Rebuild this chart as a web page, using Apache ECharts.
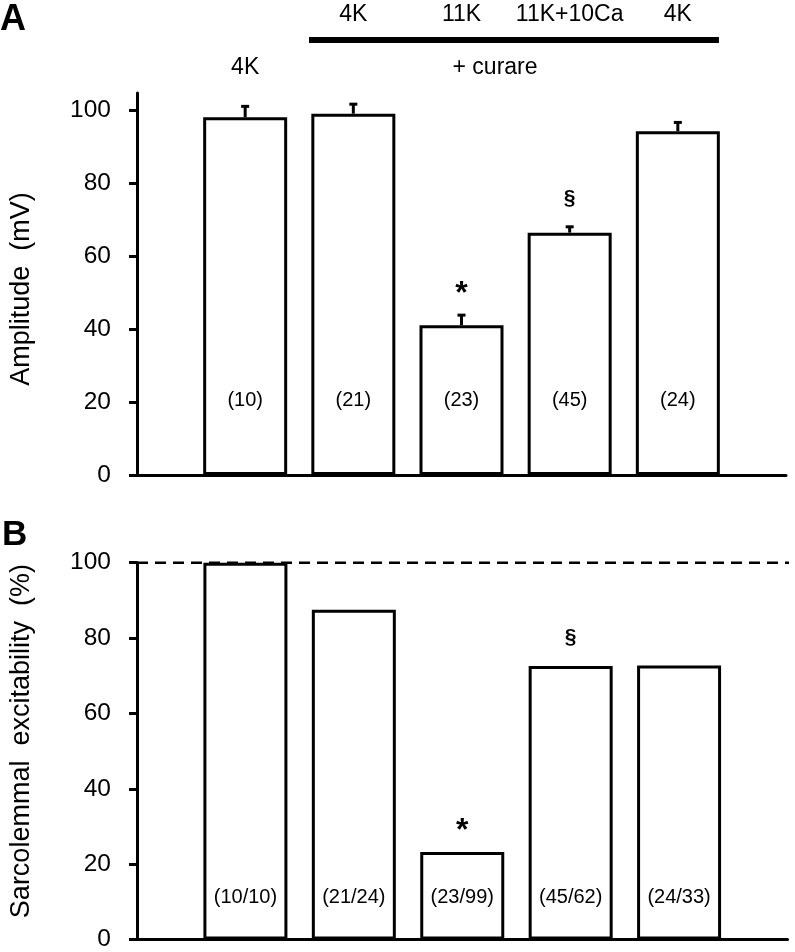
<!DOCTYPE html>
<html><head><meta charset="utf-8">
<script src="https://cdn.jsdelivr.net/npm/echarts@6/dist/echarts.min.js"></script>
<style>html,body{margin:0;padding:0;background:#fff}#c{width:795px;height:952px}</style>
</head><body><div id="c"></div>
<script>
// ---- data ----
const categories = ['4K', '4K', '11K', '11K+10Ca', '4K'];
const amplitude = [98, 99, 41, 66.4, 94.2];
const amplitudeErr = [3, 2.6, 2.8, 1.6, 2.4];
const amplitudeN = ['(10)', '(21)', '(23)', '(45)', '(24)'];
const amplitudeSig = ['', '', '*', '§', ''];
const excitability = [100, 87.5, 23.2, 72.6, 72.7];
const excitabilityN = ['(10/10)', '(21/24)', '(23/99)', '(45/62)', '(24/33)'];
const excitabilitySig = ['', '', '*', '§', ''];
const yTicks = [0, 20, 40, 60, 80, 100];
const treatmentLabel = '+ curare';
const yNameA = 'Amplitude  (mV)';
const yNameB = 'Sarcolemmal  excitability  (%)';

// ---- chart ----
const FONT = 'Liberation Sans, Arial, sans-serif';
const pos = categories.map((c, i) => i + 1);
const chart = echarts.init(document.getElementById('c'), null, {renderer: 'canvas'});

const plainText = {color: '#000', opacity: 1, textBorderWidth: 0, textShadowBlur: 0, fontFamily: FONT};

function xAx(gi) {
  return {type: 'value', gridIndex: gi, min: 0, max: 6,
    axisLine: {show: true, onZero: false, lineStyle: {color: '#000', width: 3}},
    axisTick: {show: false}, axisLabel: {show: false}, splitLine: {show: false}};
}
function yAx(gi, max, name, pad) {
  return {type: 'value', gridIndex: gi, min: 0, max: max, interval: 20,
    name: name, nameLocation: 'middle', nameGap: 102,
    nameTextStyle: {fontFamily: FONT, fontSize: 27, color: '#000', padding: pad},
    axisLine: {show: true, lineStyle: {color: '#000', width: 3}},
    axisTick: {show: true, inside: false, length: 8, lineStyle: {color: '#000', width: 3}, customValues: yTicks},
    axisLabel: {show: true, fontFamily: FONT, fontSize: 24.5, color: '#000', margin: 26, customValues: yTicks},
    splitLine: {show: false}};
}
function bars(xi, vals) {
  return {type: 'bar', xAxisIndex: xi, yAxisIndex: xi, barWidth: 84,
    data: vals.map((v, i) => [pos[i], v]),
    itemStyle: {color: '#fff', borderColor: '#000', borderWidth: 3}, z: 2, silent: true};
}
function textScatter(xi, data, style) {
  return {type: 'scatter', xAxisIndex: xi, yAxisIndex: xi, symbolSize: 0, z: 5, silent: true, clip: false,
    itemStyle: {color: '#000', opacity: 1},
    data: data,
    label: Object.assign({show: true, position: 'inside', formatter: p => p.value[2]}, plainText, style),
    emphasis: {disabled: true}};
}
function nLabels(xi, texts, yv) {
  return textScatter(xi, texts.map((t, i) => [pos[i], yv, t]), {fontSize: 20});
}
function sigLabels(xi, texts, tops) {
  const data = [];
  texts.forEach((t, i) => {
    if (t) data.push({value: [pos[i], tops[i], t],
      label: t === '§' ? {fontSize: 21, offset: [0, -29]} : {fontSize: 32, offset: [0, -21]}});
  });
  return textScatter(xi, data, {fontWeight: 'bold'});
}

const topsA = amplitude.map((v, i) => v + amplitudeErr[i]);

const option = {
  animation: false,
  backgroundColor: '#fff',
  grid: [
    {left: 136, width: 650, top: 93, height: 382},
    {left: 136.5, width: 651, top: 562.7, height: 380}
  ],
  xAxis: [xAx(0), xAx(1)],
  yAxis: [yAx(0, 104.66, yNameA, [0, 10, 0, 0]), yAx(1, 100, yNameB, [0, 0, 0, 20])],
  graphic: [
    {type: 'text', left: 0, top: 2, style: {text: 'A', font: 'bold 36px ' + FONT, fill: '#000'}},
    {type: 'text', left: 2, top: 518, style: {text: 'B', font: 'bold 35px ' + FONT, fill: '#000'}}
  ],
  series: [
    bars(0, amplitude),
    {type: 'custom', xAxisIndex: 0, yAxisIndex: 0, z: 3, silent: true,
      data: amplitude.map((v, i) => [pos[i], v, amplitudeErr[i]]),
      renderItem: (params, api) => {
        const x = api.value(0), v = api.value(1), e = api.value(2);
        const p0 = api.coord([x, v]), p1 = api.coord([x, v + e]);
        return {type: 'group', children: [
          {type: 'line', shape: {x1: p0[0], y1: p0[1], x2: p1[0], y2: p1[1]}, style: {stroke: '#000', lineWidth: 3}},
          {type: 'line', shape: {x1: p1[0] - 4, y1: p1[1], x2: p1[0] + 4, y2: p1[1]}, style: {stroke: '#000', lineWidth: 3}}
        ]};
      }},
    nLabels(0, amplitudeN, 20.3),
    sigLabels(0, amplitudeSig, topsA),
    // treatment headers above panel A
    textScatter(0, categories.map((c, i) => [pos[i], i === 0 ? 111.5 : 126, c]).concat([[3.31, 111.5, treatmentLabel]]),
      {fontSize: 23}),
    {type: 'line', xAxisIndex: 0, yAxisIndex: 0, clip: false, silent: true, symbol: 'none',
      data: [[pos[1] - 0.41, 119.2], [pos[4] + 0.38, 119.2]],
      lineStyle: {color: '#000', width: 6}},
    // panel B
    {type: 'line', xAxisIndex: 1, yAxisIndex: 1, clip: false, silent: true, symbol: 'none', z: 1,
      data: [[0, 100], [6.07, 100]],
      lineStyle: {color: '#000', width: 2.5, type: [11, 7]}},
    bars(1, excitability),
    nLabels(1, excitabilityN, 11.2),
    sigLabels(1, excitabilitySig, excitability)
  ]
};
chart.setOption(option);
</script></body></html>
